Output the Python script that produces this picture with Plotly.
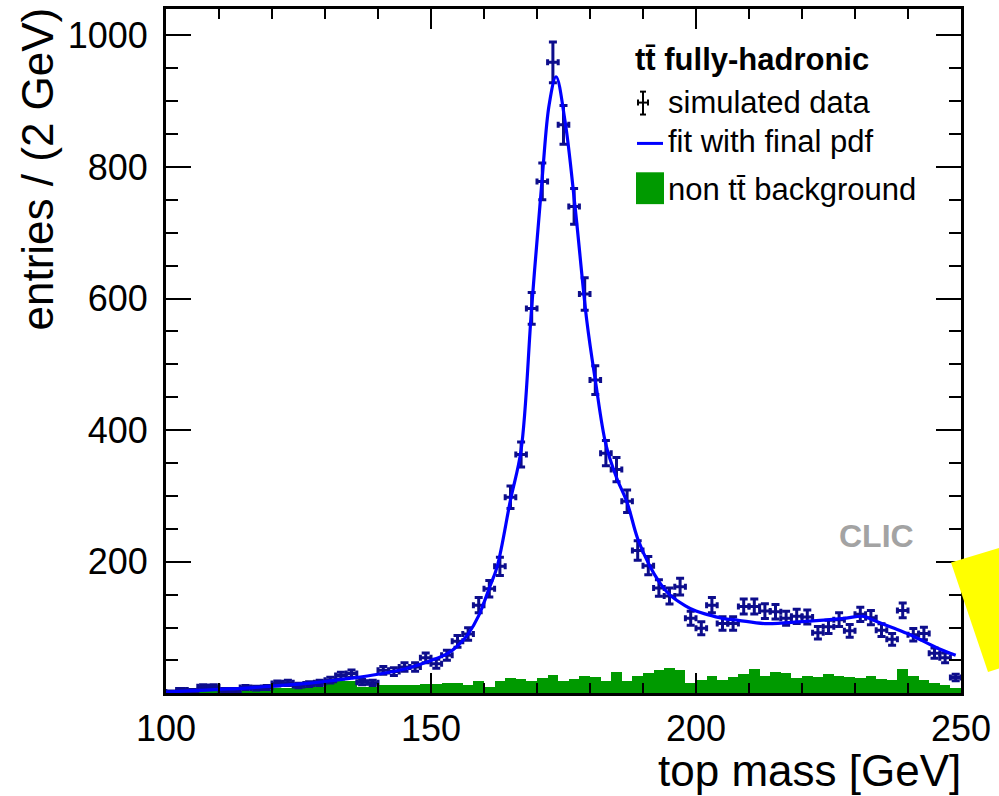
import plotly.graph_objects as go

# ---------------- data ----------------
bin_centers = list(range(101, 250, 2))  # 2 GeV bins from 100 to 250

sim_counts = [2, 5, 4, 10, 10, 5, 5, 9, 8, 9,
              15, 16, 12, 14, 16, 20, 27, 30, 17, 16,
              35, 33, 40, 40, 54, 45, 58, 79, 90, 134,
              159, 193, 298, 363, 585, 778, 959, 864, 740, 607,
              476, 365, 340, 292, 217, 194, 160, 148, 162, 114,
              99, 134, 106, 106, 132, 132, 125, 124, 114, 117,
              116, 92, 101, 112, 95, 120, 115, 96, 82, 126,
              89, 91, 61, 54, 24]

bkg_counts = [2, 2, 1, 6, 6, 3, 3, 4, 4, 5,
              8, 8, 9, 9, 10, 17, 18, 18, 10, 10,
              12, 12, 12, 12, 14, 14, 15, 15, 13, 18,
              9, 18, 24, 22, 18, 24, 28, 18, 22, 26,
              25, 18, 33, 18, 27, 31, 35, 38, 36, 16,
              21, 27, 21, 25, 30, 37, 27, 33, 31, 24,
              26, 25, 29, 27, 25, 23, 26, 22, 21, 37,
              26, 20, 16, 12, 8]

fit_x = [100, 105, 110, 115, 120, 125, 130, 135, 140, 145, 150, 153, 155, 157,
         159, 161, 162.5, 165, 167, 169, 171, 172.3, 173.6, 175.3, 177.2, 179.4,
         181, 183, 185, 187, 189, 191.3, 193, 195, 198, 200, 202, 205, 208, 213,
         220, 228, 231.6, 233.5, 237, 240.4, 245.5, 249]
fit_y = [2, 4, 6, 8, 11, 14, 18, 23, 29, 37, 50, 60, 72, 90,
         118, 160, 193, 294, 370, 587, 785, 895, 937, 869, 738, 566,
         476, 378, 328, 290, 235, 193, 170, 150, 133, 125, 120, 114, 111, 106,
         109, 114, 117, 111, 100, 89, 69, 58]

x_ticks_major = 50
y_ticks_major = 200

# ---------------- styling helpers ----------------
W, H = 999, 796
L, R, T, B = 166, 961, 6, 693
NAVY = "#0d0d8c"
GREEN = "#009a00"
FONT = "Liberation Sans, Arial, Helvetica, sans-serif"


def px(xp):
    return (xp - L) / (R - L)


def py(yp):
    return (B - yp) / (B - T)


fig = go.Figure()

fig.add_trace(go.Bar(
    x=bin_centers, y=bkg_counts, width=2,
    marker=dict(color=GREEN, line=dict(width=0)),
    showlegend=False, hoverinfo="skip"))

fig.add_trace(go.Scatter(
    x=bin_centers, y=sim_counts, mode="markers",
    marker=dict(size=3, color=NAVY),
    error_x=dict(type="constant", value=1, color=NAVY, thickness=3, width=3),
    error_y=dict(type="sqrt", color=NAVY, thickness=3, width=4),
    showlegend=False))

fig.add_trace(go.Scatter(
    x=fit_x, y=fit_y, mode="lines",
    line=dict(color="#0000ff", width=3.2, shape="spline", smoothing=1.0),
    showlegend=False))

shapes = []
# legend icons
shapes.append(dict(type="line", xref="paper", yref="paper",
                   x0=px(643), x1=px(643), y0=py(89), y1=py(112),
                   line=dict(color="black", width=2)))
for yy in (89, 112):
    shapes.append(dict(type="line", xref="paper", yref="paper",
                       x0=px(640), x1=px(646), y0=py(yy), y1=py(yy),
                       line=dict(color="black", width=2)))
shapes.append(dict(type="line", xref="paper", yref="paper",
                   x0=px(638), x1=px(648), y0=py(100), y1=py(100),
                   line=dict(color="black", width=2)))
for xx in (638, 648):
    shapes.append(dict(type="line", xref="paper", yref="paper",
                       x0=px(xx), x1=px(xx), y0=py(97), y1=py(103),
                       line=dict(color="black", width=2)))
shapes.append(dict(type="line", xref="paper", yref="paper",
                   x0=px(637), x1=px(663), y0=py(141), y1=py(141),
                   line=dict(color="#0000ff", width=3)))
shapes.append(dict(type="rect", xref="paper", yref="paper",
                   x0=px(636), x1=px(664), y0=py(202), y1=py(170),
                   fillcolor=GREEN, line=dict(width=0)))
# yellow patch at right edge
poly = [(951, 562), (1000, 547), (1000, 668), (988, 672)]
path = "M " + " L ".join(f"{px(a)},{py(b)}" for a, b in poly) + " Z"
shapes.append(dict(type="path", xref="paper", yref="paper", path=path,
                   fillcolor="#ffff00", line=dict(width=0), layer="above"))

annotations = [
    dict(text="entries / (2 GeV)", textangle=-90, xref="paper", yref="paper",
         x=px(38), y=py(3), xanchor="center", yanchor="top", showarrow=False,
         font=dict(family=FONT, size=44, color="black")),
    dict(text="top mass [GeV]", xref="paper", yref="paper",
         x=px(963), y=py(771), xanchor="right", yanchor="middle", showarrow=False,
         font=dict(family=FONT, size=44, color="black")),
    dict(text="<b>CLIC</b>", xref="paper", yref="paper",
         x=px(876), y=py(535), xanchor="center", yanchor="middle", showarrow=False,
         font=dict(family=FONT, size=32, color="#a3a3a3")),
    dict(text="<b>tt\u0304 fully-hadronic</b>", xref="paper", yref="paper",
         x=px(633), y=py(57), xanchor="left", yanchor="middle", showarrow=False,
         font=dict(family=FONT, size=31, color="black")),
    dict(text="simulated data", xref="paper", yref="paper",
         x=px(666), y=py(100), xanchor="left", yanchor="middle", showarrow=False,
         font=dict(family=FONT, size=31, color="black")),
    dict(text="fit with final pdf", xref="paper", yref="paper",
         x=px(666), y=py(139), xanchor="left", yanchor="middle", showarrow=False,
         font=dict(family=FONT, size=31, color="black")),
    dict(text="non tt\u0304 background", xref="paper", yref="paper",
         x=px(666), y=py(187), xanchor="left", yanchor="middle", showarrow=False,
         font=dict(family=FONT, size=31, color="black")),
]

fig.update_layout(
    width=W, height=H,
    margin=dict(l=L, r=W - R, t=T, b=H - B, pad=0),
    paper_bgcolor="white", plot_bgcolor="white",
    bargap=0, showlegend=False,
    shapes=shapes, annotations=annotations,
    font=dict(family=FONT, color="black"),
)

fig.update_xaxes(
    range=[100, 250], showgrid=False, zeroline=False,
    showline=True, linewidth=3, linecolor="black", mirror="ticks",
    ticks="inside", ticklen=20, tickwidth=2, tickcolor="black",
    tick0=0, dtick=x_ticks_major,
    minor=dict(dtick=10, ticks="inside", ticklen=10, tickwidth=2, tickcolor="black"),
    tickfont=dict(family=FONT, size=36, color="black"),
    ticklabelstandoff=2,
)
fig.update_yaxes(
    range=[0.5, 1040], showgrid=False, zeroline=False,
    showline=True, linewidth=3, linecolor="black", mirror="ticks",
    ticks="inside", ticklen=25, tickwidth=2, tickcolor="black",
    tick0=0, dtick=y_ticks_major,
    minor=dict(dtick=50, ticks="inside", ticklen=12, tickwidth=2, tickcolor="black"),
    tickfont=dict(family=FONT, size=36, color="black"),
    ticklabelstandoff=8,
)

fig.write_html("out.html")
